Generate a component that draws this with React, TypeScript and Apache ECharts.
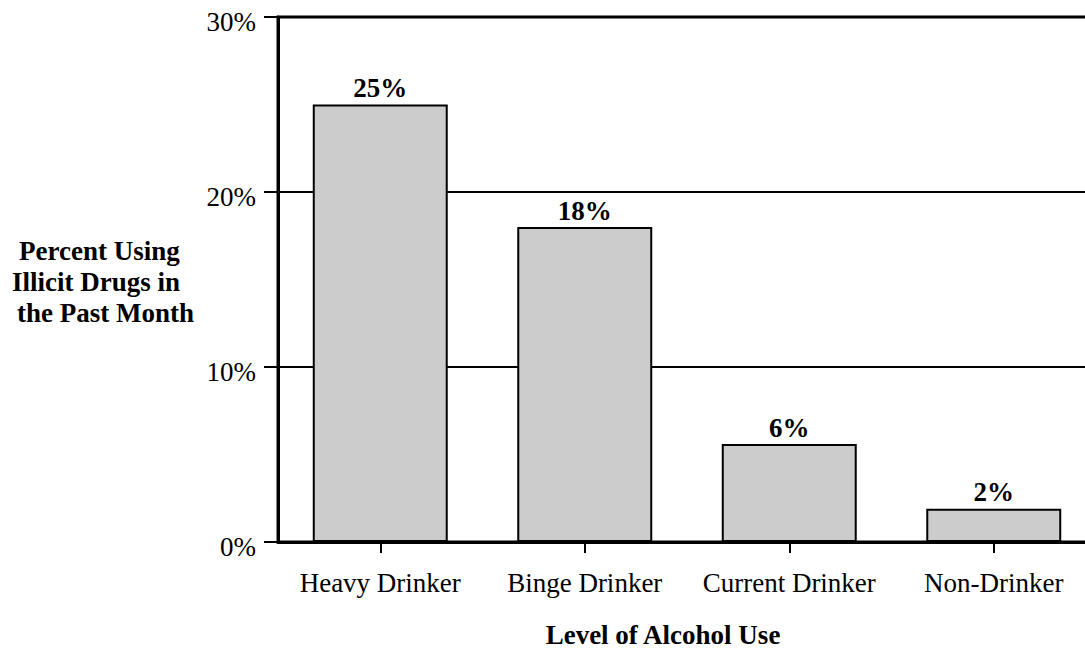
import React, { useEffect, useRef } from "react";
import * as echarts from "echarts";

const categories = ["Heavy Drinker", "Binge Drinker", "Current Drinker", "Non-Drinker"];
const values = [25, 18, 5.6, 1.9];
const valueLabels = ["25%", "18%", "6%", "2%"];
const yTicks = { min: 0, max: 30, interval: 10 };
const yNameLines = ["Percent Using", "Illicit Drugs in", "the Past Month"];
const xName = "Level of Alcohol Use";

const FONT = "'Liberation Serif', 'Times New Roman', serif";

export default function App() {
  const ref = useRef<HTMLDivElement>(null);
  useEffect(() => {
    if (!ref.current) return;
    const chart = echarts.init(ref.current, null, { renderer: "svg" });
    const yNamePos = [
      { x: 19, y: 251 },
      { x: 12, y: 282 },
      { x: 17, y: 313 },
    ];
    chart.setOption({
      animation: false,
      backgroundColor: "#ffffff",
      grid: {
        left: 278,
        top: 17,
        width: 818,
        height: 525,
        show: true,
        borderColor: "#000",
        borderWidth: 3,
        backgroundColor: "transparent",
      },
      xAxis: {
        type: "category",
        data: categories,
        axisLine: { show: true, lineStyle: { color: "#000", width: 3 } },
        axisTick: { show: true, alignWithLabel: true, interval: 0, length: 11, lineStyle: { color: "#000", width: 2 } },
        axisLabel: { color: "#000", fontSize: 27, fontFamily: FONT, margin: 27, interval: 0 },
        splitLine: { show: false },
      },
      yAxis: {
        type: "value",
        min: yTicks.min,
        max: yTicks.max,
        interval: yTicks.interval,
        axisLine: { show: true, lineStyle: { color: "#000", width: 3 } },
        axisTick: { show: true, length: 14, lineStyle: { color: "#000", width: 2 } },
        axisLabel: {
          color: "#000",
          fontSize: 27,
          fontFamily: FONT,
          margin: 22,
          verticalAlign: "top",
          lineHeight: 9,
          formatter: (v: number) => v + "%",
        },
        splitLine: { show: true, lineStyle: { color: "#000", width: 2 } },
      },
      series: [
        {
          type: "bar",
          data: values,
          barCategoryGap: "34%",
          itemStyle: { color: "#cccccc", borderColor: "#000", borderWidth: 2 },
          label: {
            show: true,
            position: "top",
            distance: 3,
            color: "#000",
            fontSize: 27,
            fontWeight: "bold",
            fontFamily: FONT,
            formatter: (p: any) => valueLabels[p.dataIndex],
          },
        },
      ],
      graphic: [
        ...yNameLines.map((t, i) => ({
          type: "text",
          x: yNamePos[i].x,
          y: yNamePos[i].y,
          style: {
            text: t,
            fill: "#000",
            font: `bold 27px ${FONT}`,
            textAlign: "left",
            textVerticalAlign: "middle",
          },
        })),
        {
          type: "text",
          x: 663,
          y: 635,
          style: {
            text: xName,
            fill: "#000",
            font: `bold 27px ${FONT}`,
            textAlign: "center",
            textVerticalAlign: "middle",
          },
        },
      ],
    });
    return () => chart.dispose();
  }, []);
  return (
    <div
      ref={ref}
      style={{ position: "fixed", left: 0, top: 0, width: 1100, height: 654 }}
    />
  );
}
